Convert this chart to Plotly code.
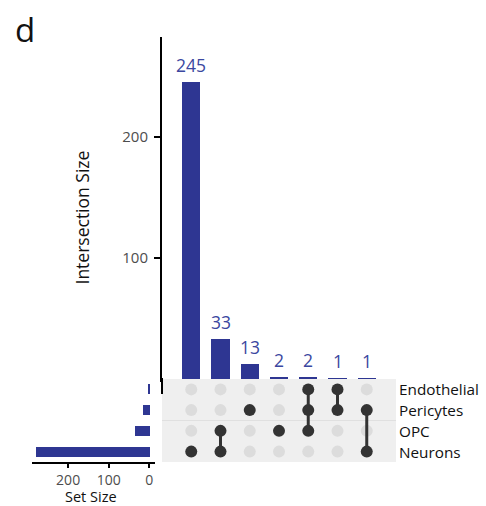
import plotly.graph_objects as go

# Sets (top to bottom in the matrix) and their sizes
sets = ["Endothelial", "Pericytes", "OPC", "Neurons"]
set_sizes = [3, 17, 37, 279]

# Intersections, in plotted order
intersection_sizes = [245, 33, 13, 2, 2, 1, 1]
intersection_members = [
    ["Neurons"],
    ["OPC", "Neurons"],
    ["Pericytes"],
    ["OPC"],
    ["Endothelial", "Pericytes", "OPC"],
    ["Endothelial", "Pericytes"],
    ["Pericytes", "Neurons"],
]

intersection_ticks = [100, 200]
set_size_ticks = [0, 100, 200]

BAR = "#2e3692"
LABEL_BLUE = "#3a47a0"
DOT_ON = "#333333"
DOT_OFF = "#dcdcdc"
FONT = "Open Sans"
W, H = 486, 506


def px(x):
    return x / W


def py(y):
    return 1 - y / H


row_of = {name: len(sets) - i for i, name in enumerate(sets)}
cols = list(range(1, len(intersection_sizes) + 1))

fig = go.Figure()

# Intersection size bars
fig.add_trace(go.Bar(x=cols, y=intersection_sizes, width=0.62, marker_color=BAR,
                     marker_line_width=0, xaxis="x", yaxis="y", showlegend=False,
                     hoverinfo="skip"))

# Matrix: empty dots
off_x, off_y, on_x, on_y = [], [], [], []
for c, members in zip(cols, intersection_members):
    for s in sets:
        if s in members:
            on_x.append(c)
            on_y.append(row_of[s])
        else:
            off_x.append(c)
            off_y.append(row_of[s])

fig.add_trace(go.Scatter(x=off_x, y=off_y, mode="markers",
                         marker=dict(size=12, color=DOT_OFF), xaxis="x2", yaxis="y2",
                         showlegend=False, hoverinfo="skip"))

# Matrix: connecting lines
for c, members in zip(cols, intersection_members):
    rows = [row_of[m] for m in members]
    if len(rows) > 1:
        fig.add_trace(go.Scatter(x=[c, c], y=[min(rows), max(rows)], mode="lines",
                                 line=dict(color=DOT_ON, width=3), xaxis="x2", yaxis="y2",
                                 showlegend=False, hoverinfo="skip"))

fig.add_trace(go.Scatter(x=on_x, y=on_y, mode="markers",
                         marker=dict(size=12, color=DOT_ON), xaxis="x2", yaxis="y2",
                         showlegend=False, hoverinfo="skip"))

# Set size bars
fig.add_trace(go.Bar(x=set_sizes, y=[row_of[s] for s in sets], orientation="h", width=0.48,
                     marker_color=BAR, marker_line_width=0, xaxis="x3", yaxis="y3",
                     showlegend=False, hoverinfo="skip"))

annotations = []
# Count labels above bars
for c, v in zip(cols, intersection_sizes):
    annotations.append(dict(x=c, y=v, xref="x", yref="y", text=str(v), showarrow=False,
                            yanchor="bottom", yshift=3,
                            font=dict(family=FONT, size=17.5, color=LABEL_BLUE)))
# Set names to the right of the matrix
for s in sets:
    annotations.append(dict(x=px(397), y=row_of[s], xref="paper", yref="y2", text=s,
                            showarrow=False, xanchor="left", yanchor="middle",
                            font=dict(family=FONT, size=15.3, color="#111111")))
annotations += [
    dict(x=px(81), y=py(217.5), xref="paper", yref="paper", text="Intersection Size",
         textangle=-90, showarrow=False, xanchor="center", yanchor="middle",
         font=dict(family=FONT, size=17.5, color="#111111")),
    dict(x=px(91), y=py(496.5), xref="paper", yref="paper", text="Set Size",
         showarrow=False, xanchor="center", yanchor="middle",
         font=dict(family=FONT, size=14.5, color="#111111")),
    dict(x=px(13), y=py(29), xref="paper", yref="paper", text="d",
         showarrow=False, xanchor="left", yanchor="middle",
         font=dict(family=FONT, size=33, color="#111111")),
]

shapes = [
    # matrix background
    dict(type="rect", xref="x2", yref="y2", x0=0, x1=8, y0=0.5, y1=4.5,
         fillcolor="#efefef", line_width=0, layer="below"),
    dict(type="line", xref="x2", yref="y2", x0=0, x1=8, y0=2.5, y1=2.5,
         line=dict(color="#e0e0e0", width=1), layer="below"),
    # y-axis line running into the matrix
    dict(type="line", xref="paper", yref="paper", x0=px(162), x1=px(162),
         y0=py(394), y1=py(378), line=dict(color="black", width=2)),
]

tickfont = dict(family=FONT, size=15, color="#4d4d4d")

fig.update_layout(
    width=W, height=H, margin=dict(l=0, r=0, t=0, b=0),
    paper_bgcolor="white", plot_bgcolor="white", bargap=0,
    font=dict(family=FONT),
    xaxis=dict(domain=[px(162), px(396)], range=[0, 8], showgrid=False, zeroline=False,
               showticklabels=False, ticks="", showline=True, linecolor="black",
               linewidth=1.5),
    yaxis=dict(domain=[py(379.5), py(37)], range=[0, 282], showgrid=False, zeroline=False,
               showline=True, linecolor="black", linewidth=2, ticks="outside",
               ticklen=6, tickwidth=1.5, tickcolor="black", tickvals=intersection_ticks,
               tickfont=tickfont, ticklabelstandoff=3),
    xaxis2=dict(domain=[px(162), px(396)], range=[0, 8], showgrid=False, zeroline=False,
                showticklabels=False, showline=False, anchor="y2"),
    yaxis2=dict(domain=[py(462), py(379)], range=[0.5, 4.5], showgrid=False,
                zeroline=False, showticklabels=False, showline=False, anchor="x2"),
    xaxis3=dict(domain=[px(31.7), px(155)], range=[289.7, -14], showgrid=False,
                zeroline=False, showline=True, linecolor="black", linewidth=1.5,
                ticks="outside", ticklen=4, tickwidth=1.5, tickcolor="black",
                tickvals=set_size_ticks, tickfont=dict(family=FONT, size=14, color="#4d4d4d"),
                anchor="y3"),
    yaxis3=dict(domain=[py(462), py(379)], range=[0.5, 4.5], showgrid=False,
                zeroline=False, showticklabels=False, showline=False, anchor="x3"),
    annotations=annotations,
    shapes=shapes,
)

fig.write_html("out.html")
